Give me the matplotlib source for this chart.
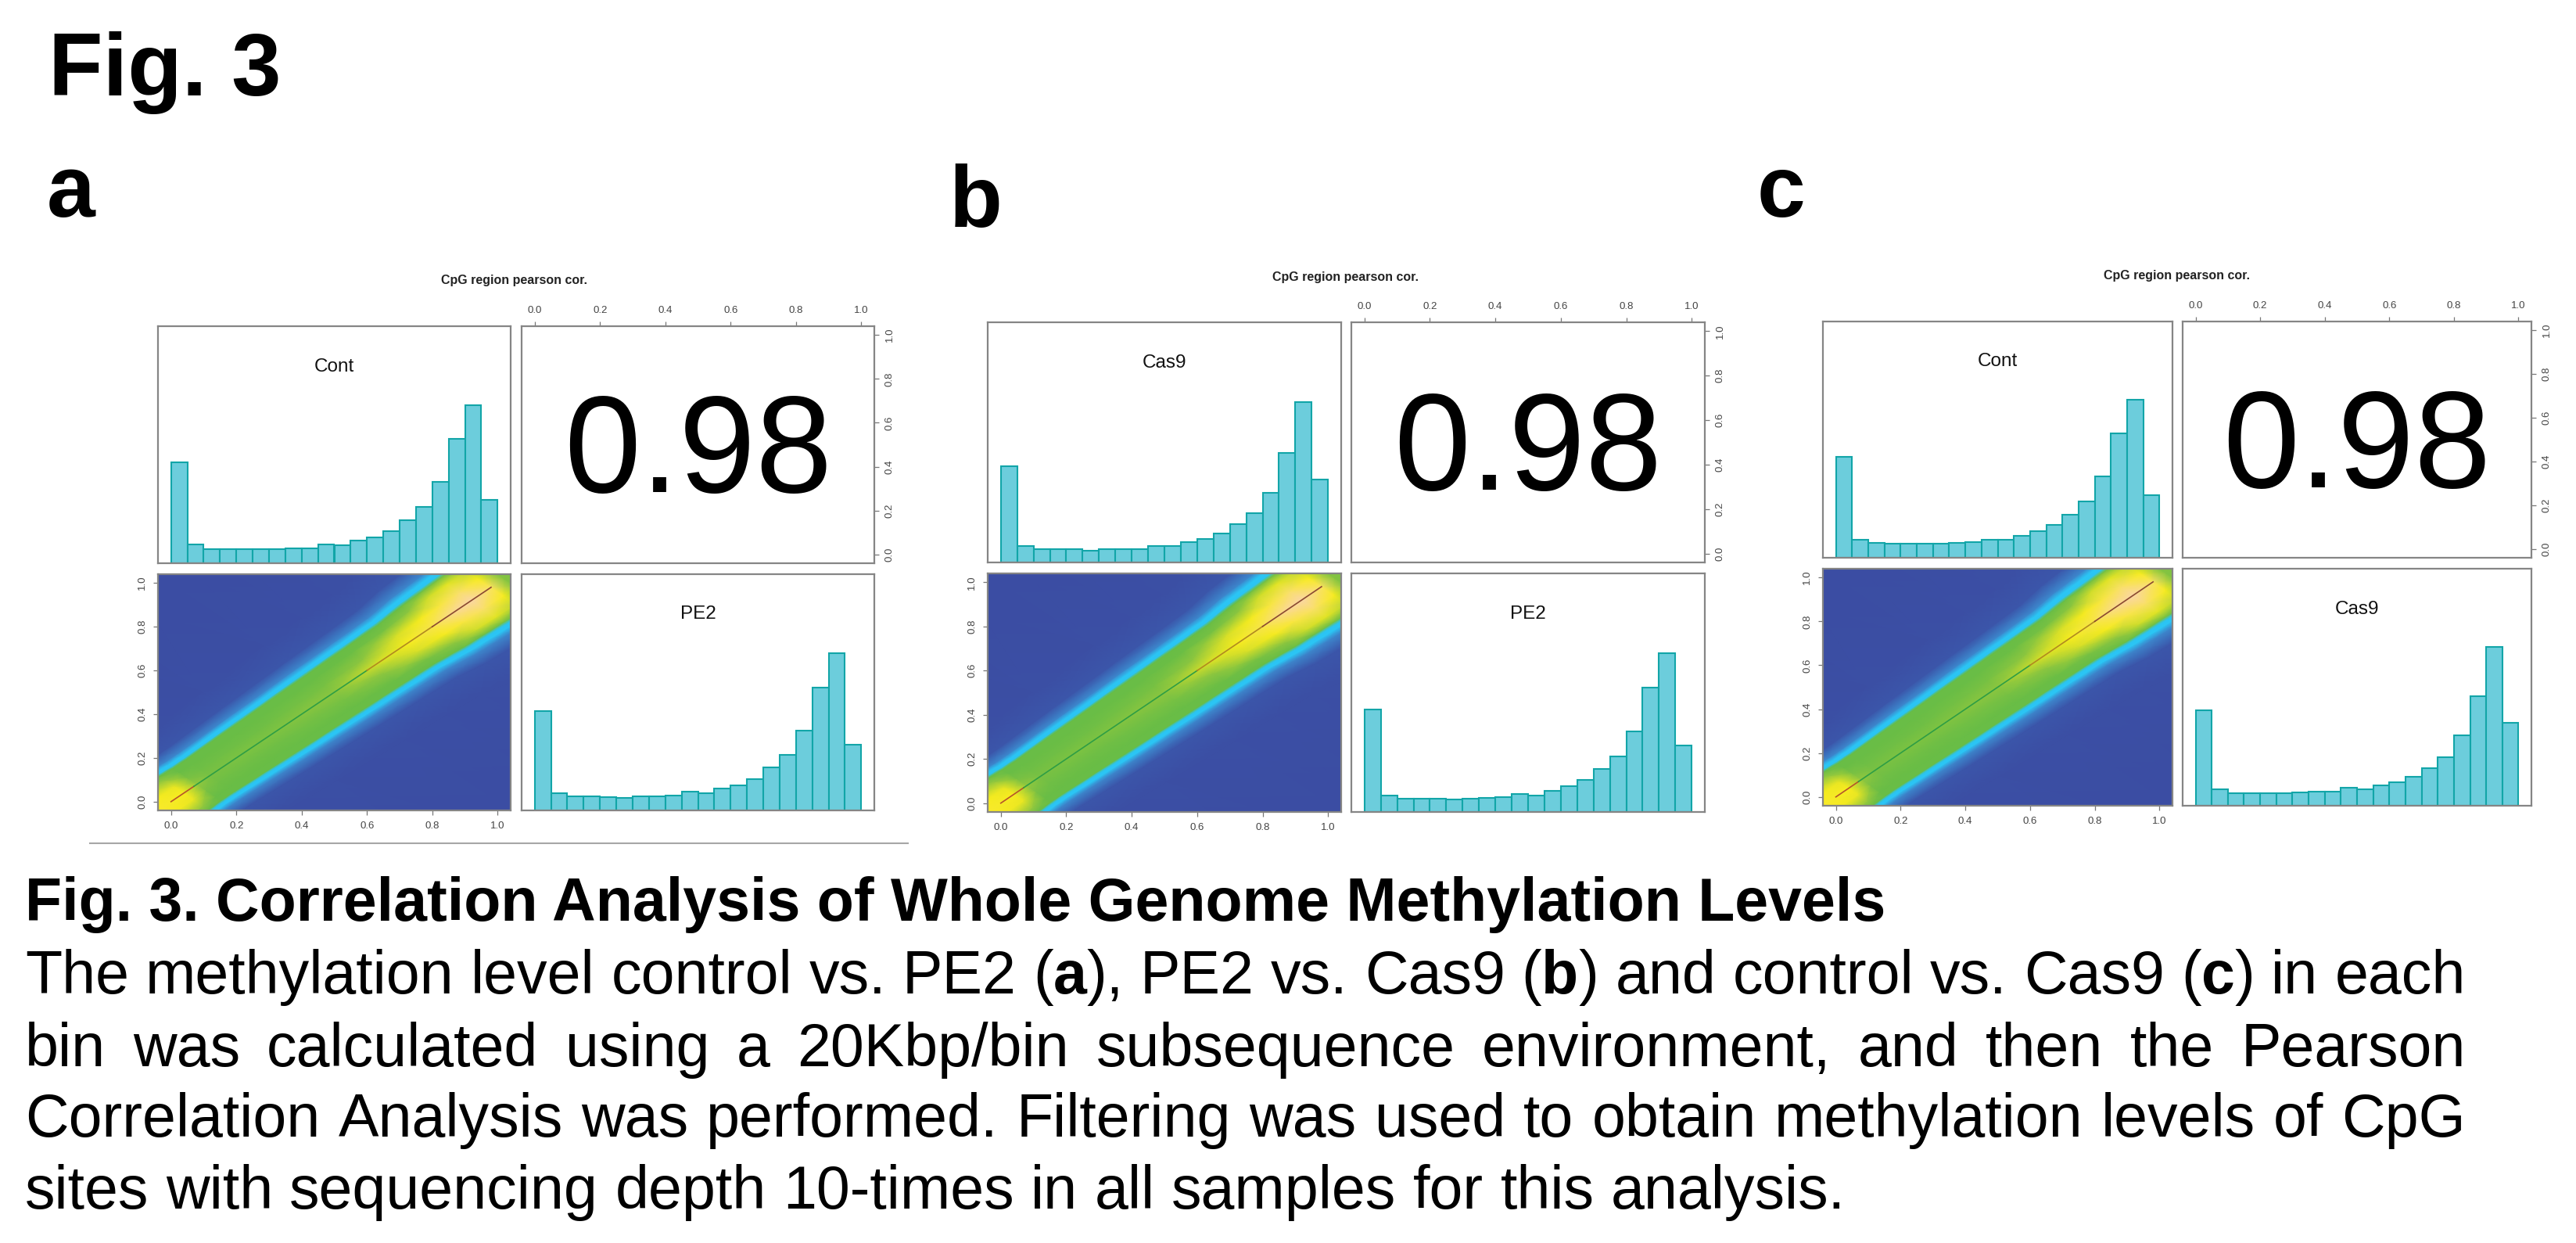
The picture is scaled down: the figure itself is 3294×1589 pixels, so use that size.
import numpy as np
import matplotlib
matplotlib.use('Agg')
import matplotlib.pyplot as plt
from matplotlib.colors import LinearSegmentedColormap

W, H = 3294, 1589
plt.rcParams['font.family'] = ['Liberation Sans', 'DejaVu Sans']

# histogram bars, 20 bins over 0-1, height as share of the panel
bin_edges = [0.0, 0.05, 0.1, 0.15, 0.2, 0.25, 0.3, 0.35, 0.4, 0.45, 0.5,
             0.55, 0.6, 0.65, 0.7, 0.75, 0.8, 0.85, 0.9, 0.95]
a_cont = [.427, .078, .061, .058, .058, .058, .058, .064, .064, .078,
          .075, .096, .109, .136, .182, .238, .342, .525, .666, .267]
a_pe2 = [.422, .072, .058, .058, .056, .053, .058, .061, .062, .078,
         .072, .094, .107, .134, .181, .234, .338, .520, .666, .277]
b_cas9 = [.402, .068, .055, .055, .055, .049, .055, .055, .057, .070,
          .068, .084, .097, .119, .158, .206, .290, .457, .669, .345]
b_pe2 = [.430, .070, .057, .057, .057, .054, .057, .059, .063, .076,
         .070, .090, .108, .133, .181, .233, .338, .520, .667, .278]
c_cont = [.428, .077, .063, .059, .059, .059, .059, .064, .066, .077,
          .077, .093, .111, .139, .183, .239, .343, .526, .668, .264]
c_cas9 = [.403, .069, .054, .054, .054, .054, .056, .059, .061, .075,
          .070, .085, .098, .123, .158, .206, .296, .461, .669, .349]

tick_vals = [0.0, 0.2, 0.4, 0.6, 0.8, 1.0]
tick_labels = ['0.0', '0.2', '0.4', '0.6', '0.8', '1.0']
cor_value = '0.98'
plot_title = 'CpG region pearson cor.'

# density panel: levels read along the diagonal ridge
ridge_pos = [-0.12, -0.02, 0.04, 0.08, 0.12, 0.3, 0.5, 0.62, 0.72, 0.8, 0.86, 0.92, 0.98, 1.02, 1.15]
ridge_halfwidth = [.17, .17, .165, .16, .16, .17, .18, .185, .19, .205, .21, .215, .22, .22, .22]
ridge_offset = [0, .35, .7, .92, 1.0, 1.1, 1.25, 1.6, 2.4, 8]
ridge_levels = [
    [.86, .85, .70, .52, .38, .36, .2, .1, .03, 0],
    [.86, .85, .70, .52, .38, .36, .2, .1, .03, 0],
    [.85, .80, .62, .51, .38, .36, .2, .1, .03, 0],
    [.62, .55, .50, .50, .38, .36, .2, .1, .03, 0],
    [.55, .52, .50, .50, .38, .36, .2, .1, .03, 0],
    [.56, .52, .50, .50, .38, .36, .2, .1, .03, 0],
    [.60, .54, .50, .50, .38, .36, .2, .1, .03, 0],
    [.72, .60, .51, .50, .38, .36, .2, .1, .03, 0],
    [.85, .74, .54, .50, .38, .36, .2, .1, .03, 0],
    [.90, .84, .60, .51, .38, .36, .2, .1, .03, 0],
    [.97, .89, .72, .52, .38, .36, .2, .1, .03, 0],
    [1.0, .93, .78, .54, .38, .36, .2, .1, .03, 0],
    [.92, .85, .68, .52, .38, .36, .2, .1, .03, 0],
    [.58, .56, .52, .50, .38, .36, .2, .1, .03, 0],
    [.50, .50, .50, .50, .38, .36, .2, .1, .03, 0],
]
ridge_line = [(0.0, 0.07, '#B5552A'), (0.07, 0.6, '#2E9E45'), (0.6, 0.8, '#B08A20'), (0.8, 0.98, '#8A4A30')]

density_cmap = LinearSegmentedColormap.from_list('dens', [
    (0.0, '#3B4CA2'), (0.1, '#3B56AA'), (0.2, '#3C86CC'),
    (0.36, '#2BC6F5'), (0.38, '#2BC4F3'), (0.5, '#68BD46'), (0.62, '#93C83E'), (0.72, '#CFDD2B'),
    (0.85, '#F7EC1E'), (1.0, '#FBD6A6')])

# panel boxes in pixels: x0, x1, x2, x3, y0, y1, y2, y3
panels = [
    {'box': (202, 653, 667, 1118, 417, 720, 734, 1036), 'hist': (a_cont, a_pe2),
     'names': ('Cont', 'PE2'), 'title': (657, 359), 'label': ('a', 60, 277)},
    {'box': (1263, 1715, 1728, 2180, 412, 719, 733, 1038), 'hist': (b_cas9, b_pe2),
     'names': ('Cas9', 'PE2'), 'title': (1720, 354), 'label': ('b', 1214, 290)},
    {'box': (2331, 2778, 2791, 3237, 411, 713, 727, 1030), 'hist': (c_cont, c_cas9),
     'names': ('Cont', 'Cas9'), 'title': (2784, 353), 'label': ('c', 2247, 277)},
]

fig = plt.figure(figsize=(W / 100, H / 100), dpi=100, facecolor='white')


def px_axes(x0, x1, y0, y1):
    return fig.add_axes([x0 / W, 1 - y1 / H, (x1 - x0) / W, (y1 - y0) / H])


def px_text(x, y, s, **kw):
    return fig.text(x / W, 1 - y / H, s, **kw)


def style_box(ax):
    for sp in ax.spines.values():
        sp.set_color('#858585')
        sp.set_linewidth(1.6)
    ax.set_xticks([])
    ax.set_yticks([])


def draw_hist(ax, vals, name):
    style_box(ax)
    ax.bar(bin_edges, vals, width=0.05, align='edge', color='#6CCDDC',
           edgecolor='#12A5A8', linewidth=1.5)
    ax.set_xlim(-0.04, 1.04)
    ax.set_ylim(0, 1)
    ax.text(0.5, 0.83, name, transform=ax.transAxes, ha='center', va='center',
            fontsize=17.5, color='#111111')


def draw_density(ax):
    style_box(ax)
    s = np.array(ridge_pos)
    hw = np.array(ridge_halfwidth)
    u = np.array(ridge_offset)
    u = np.concatenate([-u[:0:-1], u])
    lev = np.array(ridge_levels)
    lev = np.hstack([lev[:, :0:-1], lev])
    d = hw[:, None] * u[None, :]
    x = s[:, None] - d / 2
    y = s[:, None] + d / 2
    ax.pcolormesh(x, y, lev, cmap=density_cmap, vmin=0, vmax=1, shading='gouraud')
    for x0, x1, c in ridge_line:
        ax.plot([x0, x1], [x0, x1], color=c, lw=1.2)
    ax.set_xlim(-0.04, 1.04)
    ax.set_ylim(-0.04, 1.04)
    ax.set_xticks(tick_vals, tick_labels)
    ax.set_yticks(tick_vals, tick_labels)
    ax.tick_params(length=4, width=0.9, color='#777777', labelsize=9.5, labelcolor='#444444', pad=6)
    for lab in ax.get_yticklabels():
        lab.set_rotation(90)
        lab.set_va('center')


def draw_cor(ax):
    style_box(ax)
    ax.set_xlim(-0.04, 1.04)
    ax.set_ylim(-0.04, 1.04)
    ax.xaxis.tick_top()
    ax.yaxis.tick_right()
    ax.set_xticks(tick_vals, tick_labels)
    ax.set_yticks(tick_vals, tick_labels)
    ax.tick_params(length=4, width=0.9, color='#777777', labelsize=9.5, labelcolor='#444444', pad=6)
    for lab in ax.get_yticklabels():
        lab.set_rotation(90)
        lab.set_va('center')
    ax.text(0.5, 0.45, cor_value, transform=ax.transAxes, ha='center', va='center',
            fontsize=127, color='black')


for p in panels:
    x0, x1, x2, x3, y0, y1, y2, y3 = p['box']
    draw_hist(px_axes(x0, x1, y0, y1), p['hist'][0], p['names'][0])
    draw_cor(px_axes(x2, x3, y0, y1))
    draw_density(px_axes(x0, x1, y2, y3))
    draw_hist(px_axes(x2, x3, y2, y3), p['hist'][1], p['names'][1])
    px_text(p['title'][0], p['title'][1], plot_title, fontsize=11.5, fontweight='bold',
            ha='center', va='center', color='#222222')
    lab, lx, ly = p['label']
    px_text(lx, ly, lab, fontsize=80, fontweight='bold', va='baseline')

px_text(62, 122, 'Fig. 3', fontsize=82, fontweight='bold', va='baseline')
fig.add_artist(plt.Line2D([115 / W, 1161 / W], [1 - 1078 / H, 1 - 1078 / H], color='#A6A6A6', lw=1.5))

# caption text, words of runs so the panel letters can be bold
cap_size = 55.5
cap_title = 'Fig. 3. Correlation Analysis of Whole Genome Methylation Levels'
cap_lines = [
    ('The methylation level control vs. PE2 (*a*), PE2 vs. Cas9 (*b*) and control vs. Cas9 (*c*) in each', 1270, True),
    ('bin was calculated using a 20Kbp/bin subsequence environment, and then the Pearson', 1363, True),
    ('Correlation Analysis was performed. Filtering was used to obtain methylation levels of CpG', 1453, True),
    ('sites with sequencing depth 10-times in all samples for this analysis.', 1545, False),
]
cap_left, cap_right = 32, 3153

px_text(cap_left, 1177, cap_title, fontsize=cap_size, fontweight='bold', va='baseline')
renderer = fig.canvas.get_renderer()


def run_width(s, weight):
    t = px_text(0, 0, s, fontsize=cap_size, fontweight=weight)
    w = t.get_window_extent(renderer).width
    t.remove()
    return w


space_w = run_width('a a', 'normal') - run_width('aa', 'normal')

for line, base, justify in cap_lines:
    words = line.split(' ')
    runs = []
    for wd in words:
        parts = wd.split('*')
        runs.append([(s, 'bold' if i % 2 else 'normal') for i, s in enumerate(parts) if s])
    widths = [sum(run_width(s, w) for s, w in r) for r in runs]
    gap = space_w
    if justify:
        gap = (cap_right - cap_left - sum(widths)) / (len(words) - 1)
    x = cap_left
    for r, wd_w in zip(runs, widths):
        xx = x
        for s, w in r:
            px_text(xx, base, s, fontsize=cap_size, fontweight=w, va='baseline')
            xx += run_width(s, w)
        x += wd_w + gap

fig.savefig('out.png', dpi=100)
